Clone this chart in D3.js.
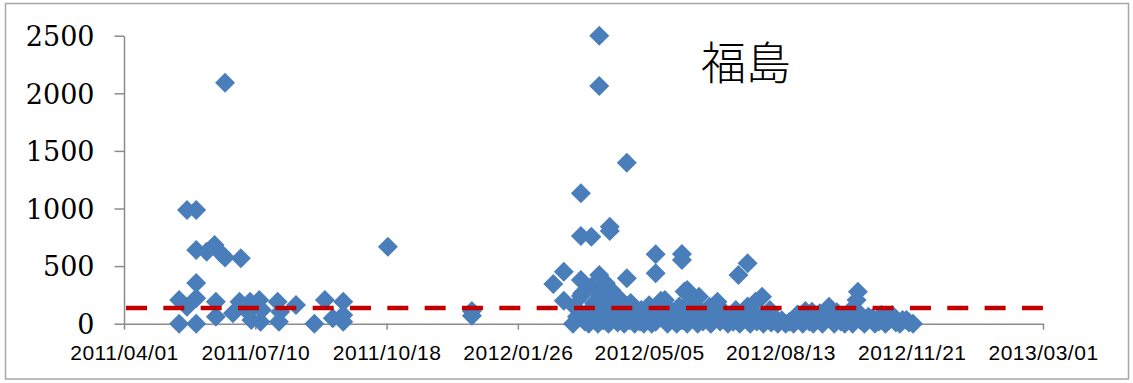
<!DOCTYPE html>
<html>
<head>
<meta charset="utf-8">
<script src="https://cdn.jsdelivr.net/npm/d3@7"></script>
<style>
  html, body { margin: 0; padding: 0; background: #ffffff; }
  svg { display: block; }
</style>
</head>
<body>
<div id="chart"></div>
<script>
// ---------------- DATA ----------------
const chartTitle = "福島";
const xTickLabels = ["2011/04/01", "2011/07/10", "2011/10/18", "2012/01/26",
                     "2012/05/05", "2012/08/13", "2012/11/21", "2013/03/01"];
const yTickValues = [0, 500, 1000, 1500, 2000, 2500];
const thresholdValue = 136;

// samples of 2011 (date, value)
const points2011 = [
  ["2011-05-13", 205], ["2011-05-13", 0], ["2011-05-19", 148], ["2011-05-19", 987],
  ["2011-05-26", 987], ["2011-05-26", 640], ["2011-05-26", 353], ["2011-05-26", 222],
  ["2011-05-26", 0], ["2011-06-03", 625], ["2011-06-09", 683], ["2011-06-10", 191],
  ["2011-06-10", 61], ["2011-06-14", 610], ["2011-06-17", 2092], ["2011-06-17", 575],
  ["2011-06-23", 90], ["2011-06-29", 568], ["2011-06-28", 191], ["2011-07-03", 120],
  ["2011-07-06", 119], ["2011-07-07", 32], ["2011-07-06", 190], ["2011-07-13", 205],
  ["2011-07-14", 17], ["2011-07-15", 119], ["2011-07-27", 191], ["2011-07-28", 17],
  ["2011-07-29", 104], ["2011-08-10", 162], ["2011-08-24", 0], ["2011-09-01", 205],
  ["2011-09-07", 47], ["2011-09-15", 191], ["2011-09-15", 17], ["2011-09-15", 75],
  ["2011-10-19", 668], ["2011-12-22", 110], ["2011-12-22", 70]
];

// samples of 2012 (date, value)
const points2012 = [
  ["2012-02-22", 345], ["2012-03-01", 451], ["2012-03-01", 200], ["2012-03-14", 1132],
  ["2012-03-14", 761], ["2012-03-14", 380], ["2012-03-22", 755], ["2012-03-28", 2500],
  ["2012-03-28", 2063], ["2012-03-28", 423], ["2012-04-05", 842], ["2012-04-05", 805],
  ["2012-04-18", 1398], ["2012-04-18", 394], ["2012-05-10", 602], ["2012-05-10", 437],
  ["2012-05-30", 605], ["2012-05-30", 553], ["2012-07-12", 423], ["2012-07-19", 524],
  ["2012-07-25", 191], ["2012-07-30", 234], ["2012-06-03", 293], ["2012-06-12", 234],
  ["2012-06-26", 191], ["2012-05-17", 206], ["2012-09-19", 148], ["2012-09-06", 104],
  ["2012-10-10", 206], ["2012-10-11", 278],
  ["2012-03-08", 0], ["2012-03-09", 150], ["2012-03-11", 60], ["2012-03-14", 240],
  ["2012-03-15", 264], ["2012-03-17", 20], ["2012-03-19", 100], ["2012-03-20", 0],
  ["2012-03-22", 321], ["2012-03-24", 180], ["2012-03-25", 50], ["2012-03-27", 0],
  ["2012-03-28", 130], ["2012-03-30", 260], ["2012-03-31", 30], ["2012-04-02", 351],
  ["2012-04-02", 190], ["2012-04-04", 0], ["2012-04-06", 293], ["2012-04-07", 80],
  ["2012-04-09", 150], ["2012-04-11", 10], ["2012-04-12", 220], ["2012-04-14", 60],
  ["2012-04-16", 0], ["2012-04-18", 140], ["2012-04-20", 30], ["2012-04-21", 180],
  ["2012-04-24", 0], ["2012-04-26", 90], ["2012-04-28", 20], ["2012-04-29", 120],
  ["2012-05-01", 0], ["2012-05-04", 50], ["2012-05-05", 160], ["2012-05-07", 0],
  ["2012-05-10", 17], ["2012-05-11", 100], ["2012-05-14", 200], ["2012-05-16", 40],
  ["2012-05-19", 0], ["2012-05-21", 120], ["2012-05-23", 60], ["2012-05-26", 0],
  ["2012-05-28", 150], ["2012-05-30", 30], ["2012-06-01", 280], ["2012-06-03", 0],
  ["2012-06-05", 100], ["2012-06-06", 200], ["2012-06-09", 40], ["2012-06-11", 0],
  ["2012-06-12", 130], ["2012-06-15", 20], ["2012-06-17", 80], ["2012-06-20", 148],
  ["2012-06-21", 0], ["2012-06-24", 60], ["2012-06-26", 162], ["2012-06-28", 20],
  ["2012-07-01", 100], ["2012-07-04", 0], ["2012-07-05", 60], ["2012-07-08", 17],
  ["2012-07-10", 120], ["2012-07-13", 0], ["2012-07-15", 80], ["2012-07-17", 47],
  ["2012-07-19", 150], ["2012-07-21", 0], ["2012-07-23", 100], ["2012-07-26", 20],
  ["2012-07-29", 60], ["2012-07-31", 0], ["2012-08-02", 75], ["2012-08-05", 120],
  ["2012-08-06", 10], ["2012-08-09", 47], ["2012-08-11", 0], ["2012-08-14", 30],
  ["2012-08-17", 0], ["2012-08-20", 17], ["2012-08-23", 0], ["2012-08-26", 80],
  ["2012-08-28", 61], ["2012-08-30", 0], ["2012-09-01", 110], ["2012-09-04", 20],
  ["2012-09-07", 0], ["2012-09-09", 47], ["2012-09-12", 90], ["2012-09-14", 0],
  ["2012-09-16", 60], ["2012-09-21", 32], ["2012-09-23", 0], ["2012-09-25", 100],
  ["2012-09-28", 20], ["2012-10-01", 0], ["2012-10-02", 61], ["2012-10-05", 110],
  ["2012-10-07", 0], ["2012-10-12", 90], ["2012-10-13", 30], ["2012-10-16", 0],
  ["2012-10-19", 60], ["2012-10-22", 47], ["2012-10-24", 0], ["2012-10-27", 20],
  ["2012-10-29", 75], ["2012-11-01", 0], ["2012-11-04", 32], ["2012-11-06", 75],
  ["2012-11-09", 10], ["2012-11-12", 0], ["2012-11-14", 32], ["2012-11-17", 32],
  ["2012-11-19", 10], ["2012-11-22", 0]
];

// ---------------- CHART ----------------
const W = 1133, H = 383;
const plot = { left: 124, right: 1043, top: 35.7, bottom: 323.7 };

const parseIso = d3.utcParse("%Y-%m-%d");
const parseTick = d3.utcParse("%Y/%m/%d");

const svg = d3.select("#chart").append("svg")
  .attr("width", W).attr("height", H);

svg.append("rect").attr("width", W).attr("height", H).attr("fill", "#ffffff");

// outer chart border
svg.append("rect")
  .attr("x", 5.5).attr("y", 3.5).attr("width", 1123).attr("height", 375.5)
  .attr("fill", "none").attr("stroke", "#a6a6a6").attr("stroke-width", 1.5);

const x = d3.scaleUtc()
  .domain([parseTick(xTickLabels[0]), parseTick(xTickLabels[xTickLabels.length - 1])])
  .range([plot.left, plot.right]);

const y = d3.scaleLinear()
  .domain([0, 2500])
  .range([plot.bottom, plot.top]);

const axisColor = "#8c8c8c";

// Y axis
const yAxis = svg.append("g")
  .attr("transform", `translate(${plot.left},0)`)
  .call(d3.axisLeft(y).tickValues(yTickValues).tickFormat(d3.format("d"))
    .tickSize(9.5).tickPadding(20).tickSizeOuter(0));
yAxis.select(".domain").attr("stroke", axisColor).attr("stroke-width", 1.5);
yAxis.selectAll(".tick line").attr("stroke", axisColor).attr("stroke-width", 1.5);
yAxis.selectAll(".tick text")
  .attr("fill", "#000")
  .attr("font-family", "'DejaVu Serif', 'Liberation Serif', serif")
  .attr("font-size", "27px")
  .attr("dy", "0.36em");

// X axis
const xAxis = svg.append("g")
  .attr("transform", `translate(0,${plot.bottom})`)
  .call(d3.axisBottom(x)
    .tickValues(xTickLabels.map(parseTick))
    .tickFormat(d3.utcFormat("%Y/%m/%d"))
    .tickSize(6).tickSizeOuter(0));
xAxis.select(".domain").attr("stroke", axisColor).attr("stroke-width", 1.5);
xAxis.selectAll(".tick line").attr("stroke", axisColor).attr("stroke-width", 1.5);
xAxis.selectAll(".tick text")
  .attr("fill", "#000")
  .attr("font-family", "'Liberation Sans', Arial, sans-serif")
  .attr("font-size", "21px")
  .attr("letter-spacing", "0.5px")
  .attr("y", 36.5)
  .attr("dy", 0);

// markers
const allPoints = points2011.concat(points2012);
const r = 10;
const diamond = `M0,${-r}L${r},0L0,${r}L${-r},0Z`;
svg.append("g").selectAll("path")
  .data(allPoints)
  .join("path")
  .attr("d", diamond)
  .attr("transform", d => `translate(${x(parseIso(d[0]))},${y(d[1])})`)
  .attr("fill", "#4a7ebb");

// threshold line
svg.append("line")
  .attr("x1", plot.left + 2).attr("x2", plot.right)
  .attr("y1", y(thresholdValue)).attr("y2", y(thresholdValue))
  .attr("stroke", "#c00000").attr("stroke-width", 4.5)
  .attr("stroke-dasharray", "21 16.33");

// title
svg.append("text")
  .attr("x", 701).attr("y", 80)
  .attr("font-family", "'Noto Sans CJK JP', 'Noto Sans CJK SC', sans-serif")
  .attr("font-weight", 300)
  .attr("font-size", "45px")
  .attr("fill", "#000")
  .text(chartTitle);
</script>
</body>
</html>
